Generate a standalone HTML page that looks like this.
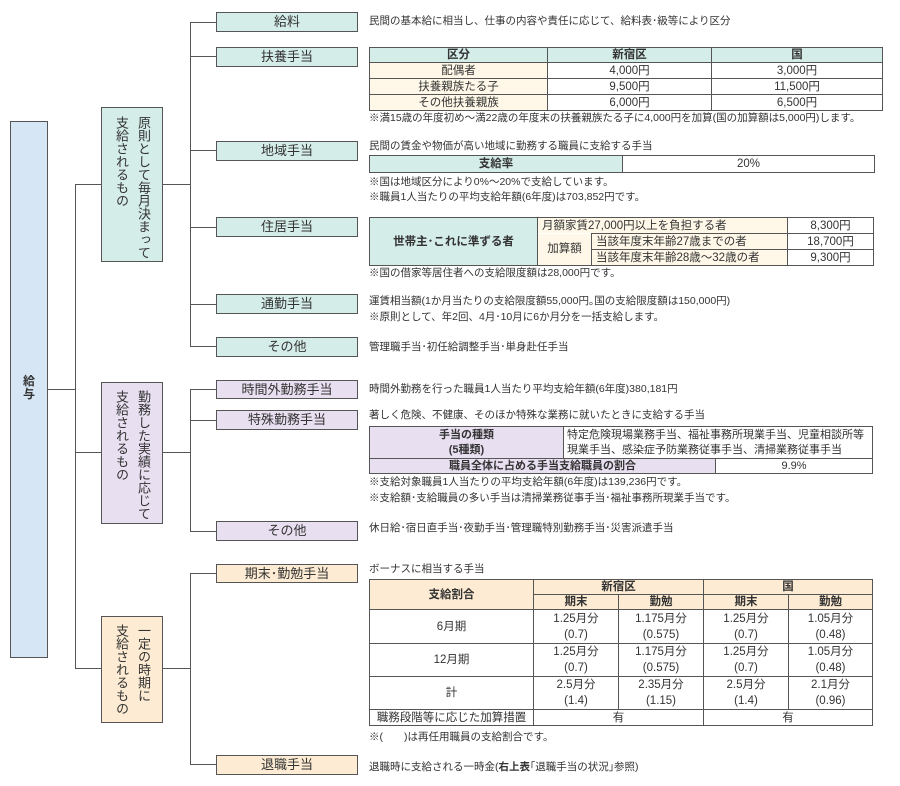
<!DOCTYPE html>
<html><head><meta charset="utf-8"><style>
*{margin:0;padding:0;box-sizing:border-box}
body{width:900px;height:786px;background:#fff;position:relative;font-family:"Liberation Sans","Noto Sans CJK JP",sans-serif;color:#333;overflow:hidden}
.a{position:absolute}
.ln{position:absolute;background:#555}
.bx{position:absolute;border:1px solid #555;font-size:13px;text-align:center;line-height:17px}
.t1{background:#d5ede8}.t2{background:#e8dff0}.t3{background:#fdecd3}
.v{position:absolute;border:1px solid #555}
.vt{position:absolute;writing-mode:vertical-rl;font-size:13px;line-height:13px;white-space:nowrap}
.tx{position:absolute;font-size:10.5px;white-space:nowrap;line-height:14px;left:369px}
table{position:absolute;border-collapse:collapse;font-size:11.5px;table-layout:fixed}
td{border:1px solid #555;text-align:center;padding:0;line-height:14px;white-space:nowrap;overflow:hidden}
.h{background:#d5ede8;font-weight:bold}
.c{background:#fff8e8}
.p{background:#e8dff0;font-weight:bold}
.o{background:#fdecd3;font-weight:bold}
</style></head><body>
<div class="a" style="left:10px;top:121px;width:38px;height:537px;background:#d6e6f5;border:1px solid #555"></div>
<div class="a" style="left:10px;top:375px;width:38px;text-align:center;font-weight:bold;font-size:12px;line-height:13px">給<br>与</div>
<div class="ln" style="left:48px;top:389px;width:27px;height:1px"></div>
<div class="ln" style="left:75px;top:184px;width:1px;height:485px"></div>
<div class="ln" style="left:75px;top:184px;width:26px;height:1px"></div>
<div class="ln" style="left:75px;top:452px;width:26px;height:1px"></div>
<div class="ln" style="left:75px;top:668px;width:26px;height:1px"></div>

<div class="v t1" style="left:101px;top:107px;width:62px;height:155px"></div>
<div class="vt" style="left:137px;top:116px">原則として毎月決まって</div>
<div class="vt" style="left:115px;top:116px">支給されるもの</div>
<div class="v t2" style="left:101px;top:382px;width:62px;height:142px"></div>
<div class="vt" style="left:137px;top:390px">勤務した実績に応じて</div>
<div class="vt" style="left:115px;top:390px">支給されるもの</div>
<div class="v t3" style="left:101px;top:616px;width:62px;height:107px"></div>
<div class="vt" style="left:137px;top:624px">一定の時期に</div>
<div class="vt" style="left:115px;top:624px">支給されるもの</div>

<div class="ln" style="left:163px;top:184px;width:27px;height:1px"></div>
<div class="ln" style="left:163px;top:452px;width:27px;height:1px"></div>
<div class="ln" style="left:163px;top:668px;width:27px;height:1px"></div>
<div class="ln" style="left:190px;top:22px;width:1px;height:325px"></div>
<div class="ln" style="left:190px;top:389px;width:1px;height:143px"></div>
<div class="ln" style="left:190px;top:573px;width:1px;height:192px"></div>
<div class="ln" style="left:190px;top:22px;width:26px;height:1px"></div>
<div class="ln" style="left:190px;top:56px;width:26px;height:1px"></div>
<div class="ln" style="left:190px;top:150px;width:26px;height:1px"></div>
<div class="ln" style="left:190px;top:227px;width:26px;height:1px"></div>
<div class="ln" style="left:190px;top:304px;width:26px;height:1px"></div>
<div class="ln" style="left:190px;top:346px;width:26px;height:1px"></div>
<div class="ln" style="left:190px;top:389px;width:26px;height:1px"></div>
<div class="ln" style="left:190px;top:420px;width:26px;height:1px"></div>
<div class="ln" style="left:190px;top:531px;width:26px;height:1px"></div>
<div class="ln" style="left:190px;top:573px;width:26px;height:1px"></div>
<div class="ln" style="left:190px;top:764px;width:26px;height:1px"></div>
<div class="bx t1" style="left:216px;top:12px;width:142px;height:20px">給料</div>
<div class="bx t1" style="left:216px;top:47px;width:142px;height:20px">扶養手当</div>
<div class="bx t1" style="left:216px;top:141px;width:142px;height:20px">地域手当</div>
<div class="bx t1" style="left:216px;top:217px;width:142px;height:20px">住居手当</div>
<div class="bx t1" style="left:216px;top:294px;width:142px;height:20px">通勤手当</div>
<div class="bx t1" style="left:216px;top:337px;width:142px;height:20px">その他</div>
<div class="bx t2" style="left:216px;top:380px;width:142px;height:19px">時間外勤務手当</div>
<div class="bx t2" style="left:216px;top:410px;width:142px;height:20px">特殊勤務手当</div>
<div class="bx t2" style="left:216px;top:521px;width:142px;height:20px">その他</div>
<div class="bx t3" style="left:216px;top:564px;width:142px;height:19px">期末･勤勉手当</div>
<div class="bx t3" style="left:216px;top:755px;width:142px;height:20px">退職手当</div>

<div class="tx" style="top:14px">民間の基本給に相当し、仕事の内容や責任に応じて、給料表･級等により区分</div>
<table style="left:369px;top:47px;width:514px">
<colgroup><col style="width:178px"><col style="width:164px"><col></colgroup>
<tr style="height:15px"><td class="h">区分</td><td class="h">新宿区</td><td class="h">国</td></tr>
<tr style="height:16px"><td class="c">配偶者</td><td>4,000円</td><td>3,000円</td></tr>
<tr style="height:16px"><td class="c">扶養親族たる子</td><td>9,500円</td><td>11,500円</td></tr>
<tr style="height:16px"><td class="c">その他扶養親族</td><td>6,000円</td><td>6,500円</td></tr>
</table>
<div class="tx" style="top:111px">※満15歳の年度初め～満22歳の年度末の扶養親族たる子に4,000円を加算(国の加算額は5,000円)します。</div>
<div class="tx" style="top:139px">民間の賃金や物価が高い地域に勤務する職員に支給する手当</div>
<table style="left:369px;top:155px;width:506px">
<colgroup><col style="width:253px"><col></colgroup>
<tr style="height:17px"><td class="h">支給率</td><td>20%</td></tr></table>
<div class="tx" style="top:175px">※国は地域区分により0%～20%で支給しています。</div>
<div class="tx" style="top:190px">※職員1人当たりの平均支給年額(6年度)は703,852円です。</div>
<table style="left:369px;top:217px;width:505px">
<colgroup><col style="width:168px"><col style="width:54px"><col style="width:196px"><col></colgroup>
<tr style="height:16px"><td class="h" rowspan="3">世帯主･これに準ずる者</td><td class="c" colspan="2" style="text-align:left;border-bottom:none;padding-left:4px">月額家賃27,000円以上を負担する者</td><td>8,300円</td></tr>
<tr style="height:16px"><td class="c" rowspan="2" style="border-top:none">加算額</td><td class="c" style="text-align:left;padding-left:4px">当該年度末年齢27歳までの者</td><td>18,700円</td></tr>
<tr style="height:16px"><td class="c" style="text-align:left;padding-left:4px">当該年度末年齢28歳～32歳の者</td><td>9,300円</td></tr>
</table>
<div class="tx" style="top:266px">※国の借家等居住者への支給限度額は28,000円です。</div>
<div class="tx" style="top:294px">運賃相当額(1か月当たりの支給限度額55,000円｡国の支給限度額は150,000円)</div>
<div class="tx" style="top:310px">※原則として、年2回、4月･10月に6か月分を一括支給します。</div>
<div class="tx" style="top:340px">管理職手当･初任給調整手当･単身赴任手当</div>
<div class="tx" style="top:382px">時間外勤務を行った職員1人当たり平均支給年額(6年度)380,181円</div>
<div class="tx" style="top:408px">著しく危険、不健康、そのほか特殊な業務に就いたときに支給する手当</div>
<table style="left:369px;top:426px;width:504px;font-size:11px">
<colgroup><col style="width:194px"><col style="width:152px"><col></colgroup>
<tr style="height:32px"><td class="p" style="line-height:15px">手当の種類<br>(5種類)</td><td colspan="2" style="text-align:left;padding-left:3px;line-height:15px">特定危険現場業務手当、福祉事務所現業手当、児童相談所等<br>現業手当、感染症予防業務従事手当、清掃業務従事手当</td></tr>
<tr style="height:15px"><td class="p" colspan="2">職員全体に占める手当支給職員の割合</td><td>9.9%</td></tr>
</table>
<div class="tx" style="top:475px">※支給対象職員1人当たりの平均支給年額(6年度)は139,236円です。</div>
<div class="tx" style="top:491px">※支給額･支給職員の多い手当は清掃業務従事手当･福祉事務所現業手当です。</div>
<div class="tx" style="top:521px">休日給･宿日直手当･夜勤手当･管理職特別勤務手当･災害派遣手当</div>
<div class="tx" style="top:562px">ボーナスに相当する手当</div>
<table style="left:369px;top:579px;width:504px">
<colgroup><col style="width:164px"><col style="width:85px"><col style="width:85px"><col style="width:85px"><col></colgroup>
<tr style="height:15px"><td class="o" rowspan="2">支給割合</td><td class="o" colspan="2">新宿区</td><td class="o" colspan="2">国</td></tr>
<tr style="height:15px"><td class="o">期末</td><td class="o">勤勉</td><td class="o">期末</td><td class="o">勤勉</td></tr>
<tr style="height:34px"><td>6月期</td><td style="line-height:16px">1.25月分<br>(0.7)</td><td style="line-height:16px">1.175月分<br>(0.575)</td><td style="line-height:16px">1.25月分<br>(0.7)</td><td style="line-height:16px">1.05月分<br>(0.48)</td></tr>
<tr style="height:33px"><td>12月期</td><td style="line-height:16px">1.25月分<br>(0.7)</td><td style="line-height:16px">1.175月分<br>(0.575)</td><td style="line-height:16px">1.25月分<br>(0.7)</td><td style="line-height:16px">1.05月分<br>(0.48)</td></tr>
<tr style="height:33px"><td>計</td><td style="line-height:16px">2.5月分<br>(1.4)</td><td style="line-height:16px">2.35月分<br>(1.15)</td><td style="line-height:16px">2.5月分<br>(1.4)</td><td style="line-height:16px">2.1月分<br>(0.96)</td></tr>
<tr style="height:16px"><td>職務段階等に応じた加算措置</td><td colspan="2">有</td><td colspan="2">有</td></tr>
</table>
<div class="tx" style="top:730px">※(　　)は再任用職員の支給割合です。</div>
<div class="tx" style="top:760px">退職時に支給される一時金(<b>右上表</b>｢退職手当の状況｣参照)</div>
</body></html>
